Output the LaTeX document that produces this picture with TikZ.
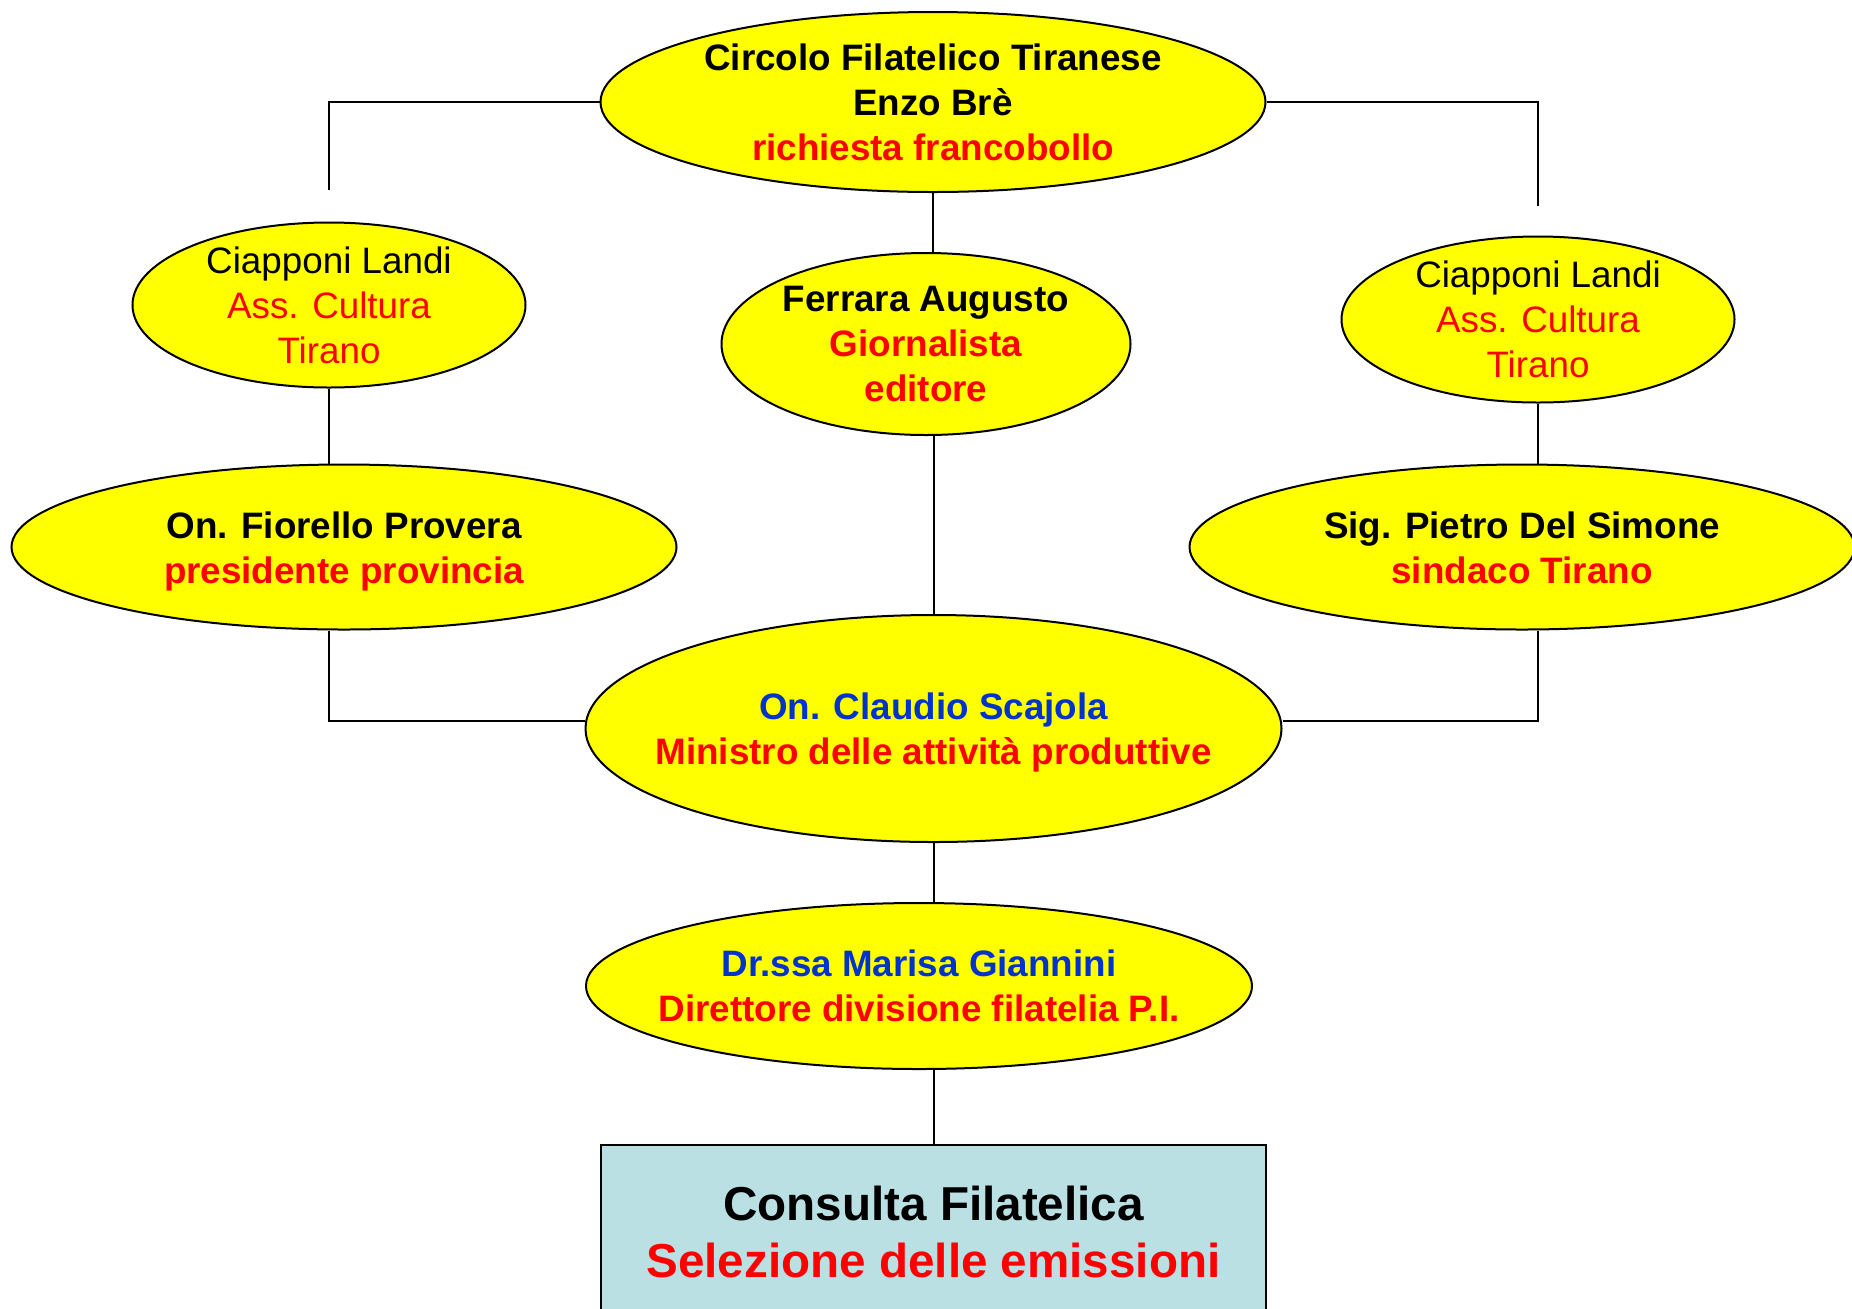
\documentclass[tikz,border=0pt]{standalone}
\usepackage{fontspec}
\setmainfont{Liberation Sans}
\usepackage{tikz}
\usetikzlibrary{positioning,shapes.geometric,calc}
\definecolor{tred}{RGB}{255,0,0}
\definecolor{tblue}{RGB}{0,51,204}
\definecolor{tyel}{RGB}{255,255,0}
\definecolor{tbox}{RGB}{186,224,227}
\tikzset{
  ell/.style={ellipse, draw, fill=tyel, line width=1pt, inner sep=0pt},
  txt/.style={align=center, inner sep=0pt, font=\fontsize{18.4}{22.5}\selectfont\bfseries},
  txtreg/.style={txt, font=\fontsize{18.4}{22.5}\selectfont},
  big/.style={ell, minimum width=332.5pt, minimum height=82.5pt},
  small/.style={ell, minimum width=196.5pt, minimum height=82.5pt},
  cbox/.style={draw, fill=tbox, line width=1pt, align=center, minimum width=332.5pt,
    minimum height=87pt, font=\fontsize{23.8}{28.5}\selectfont\bfseries},
  con/.style={line width=1pt}}
\begin{document}
\begin{tikzpicture}[x=0.5pt, y=-0.5pt]
  \useasboundingbox (0,0) rectangle (1852,1308);
  % central chain
  \node[ell, minimum width=332.5pt, minimum height=90pt,
    label={[txt]center:{Circolo Filatelico Tiranese\\Enzo Brè\\\textcolor{tred}{richiesta francobollo}}}] (circ) at (933,102) {};
  \node[ell, minimum width=204.5pt, minimum height=91pt, below=29.5pt of circ, xshift=-3.5pt,
    label={[txt]center:{Ferrara Augusto\\\textcolor{tred}{Giornalista}\\\textcolor{tred}{editore}}}] (fer) {};
  \node[ell, minimum width=348pt, minimum height=113.5pt, below=89pt of fer, xshift=3.75pt,
    label={[txt, yshift=-2.2pt]center:{\textcolor{tblue}{On. Claudio Scajola}\\\textcolor{tred}{Ministro delle attività produttive}}}] (sca) {};
  \node[ell, minimum width=333pt, minimum height=83pt, below=29.5pt of sca, xshift=-7.25pt,
    label={[txt]center:{\textcolor{tblue}{Dr.ssa Marisa Giannini}\\\textcolor{tred}{Direttore divisione filatelia P.I.}}}] (gia) {};
  \node[cbox, below=37pt of gia, xshift=7.25pt] (cons)
    {Consulta Filatelica\\\textcolor{tred}{Selezione delle emissioni}};
  % side branches
  \node[small, label={[txtreg]center:{Ciapponi Landi\\\textcolor{tred}{Ass. Cultura}\\\textcolor{tred}{Tirano}}}] (cial) at (329,305) {};
  \node[small, minimum height=83pt, label={[txtreg]center:{Ciapponi Landi\\\textcolor{tred}{Ass. Cultura}\\\textcolor{tred}{Tirano}}}] (ciar) at (1538,319.5) {};
  \node[big, label={[txt, yshift=-2.2pt]center:{On. Fiorello Provera\\\textcolor{tred}{presidente provincia}}}] (fio) at (344,547) {};
  \node[big, label={[txt, yshift=-0.6pt]center:{Sig. Pietro Del Simone\\\textcolor{tred}{sindaco Tirano}}}] (pie) at (1522,547) {};
  % connectors
  \draw[con] (circ.west) -| ([yshift=15.75pt]cial.north);
  \draw[con] (circ.east) -| ([yshift=14.75pt]ciar.north);
  \draw[con] (circ.south) -- (circ.south |- fer.north);
  \draw[con] (cial.south) -- (cial.south |- fio.north);
  \draw[con] (ciar.south) -- (ciar.south |- pie.north);
  \draw[con] (sca.north |- fer.south) -- (sca.north);
  \draw[con] (cial.south |- fio.south) |- ([yshift=3.75pt]sca.west);
  \draw[con] (ciar.south |- pie.south) |- ([yshift=3.75pt]sca.east);
  \draw[con] (sca.south) -- (sca.south |- gia.north);
  \draw[con] (gia.south -| cons.north) -- (cons.north);
\end{tikzpicture}
\end{document}
